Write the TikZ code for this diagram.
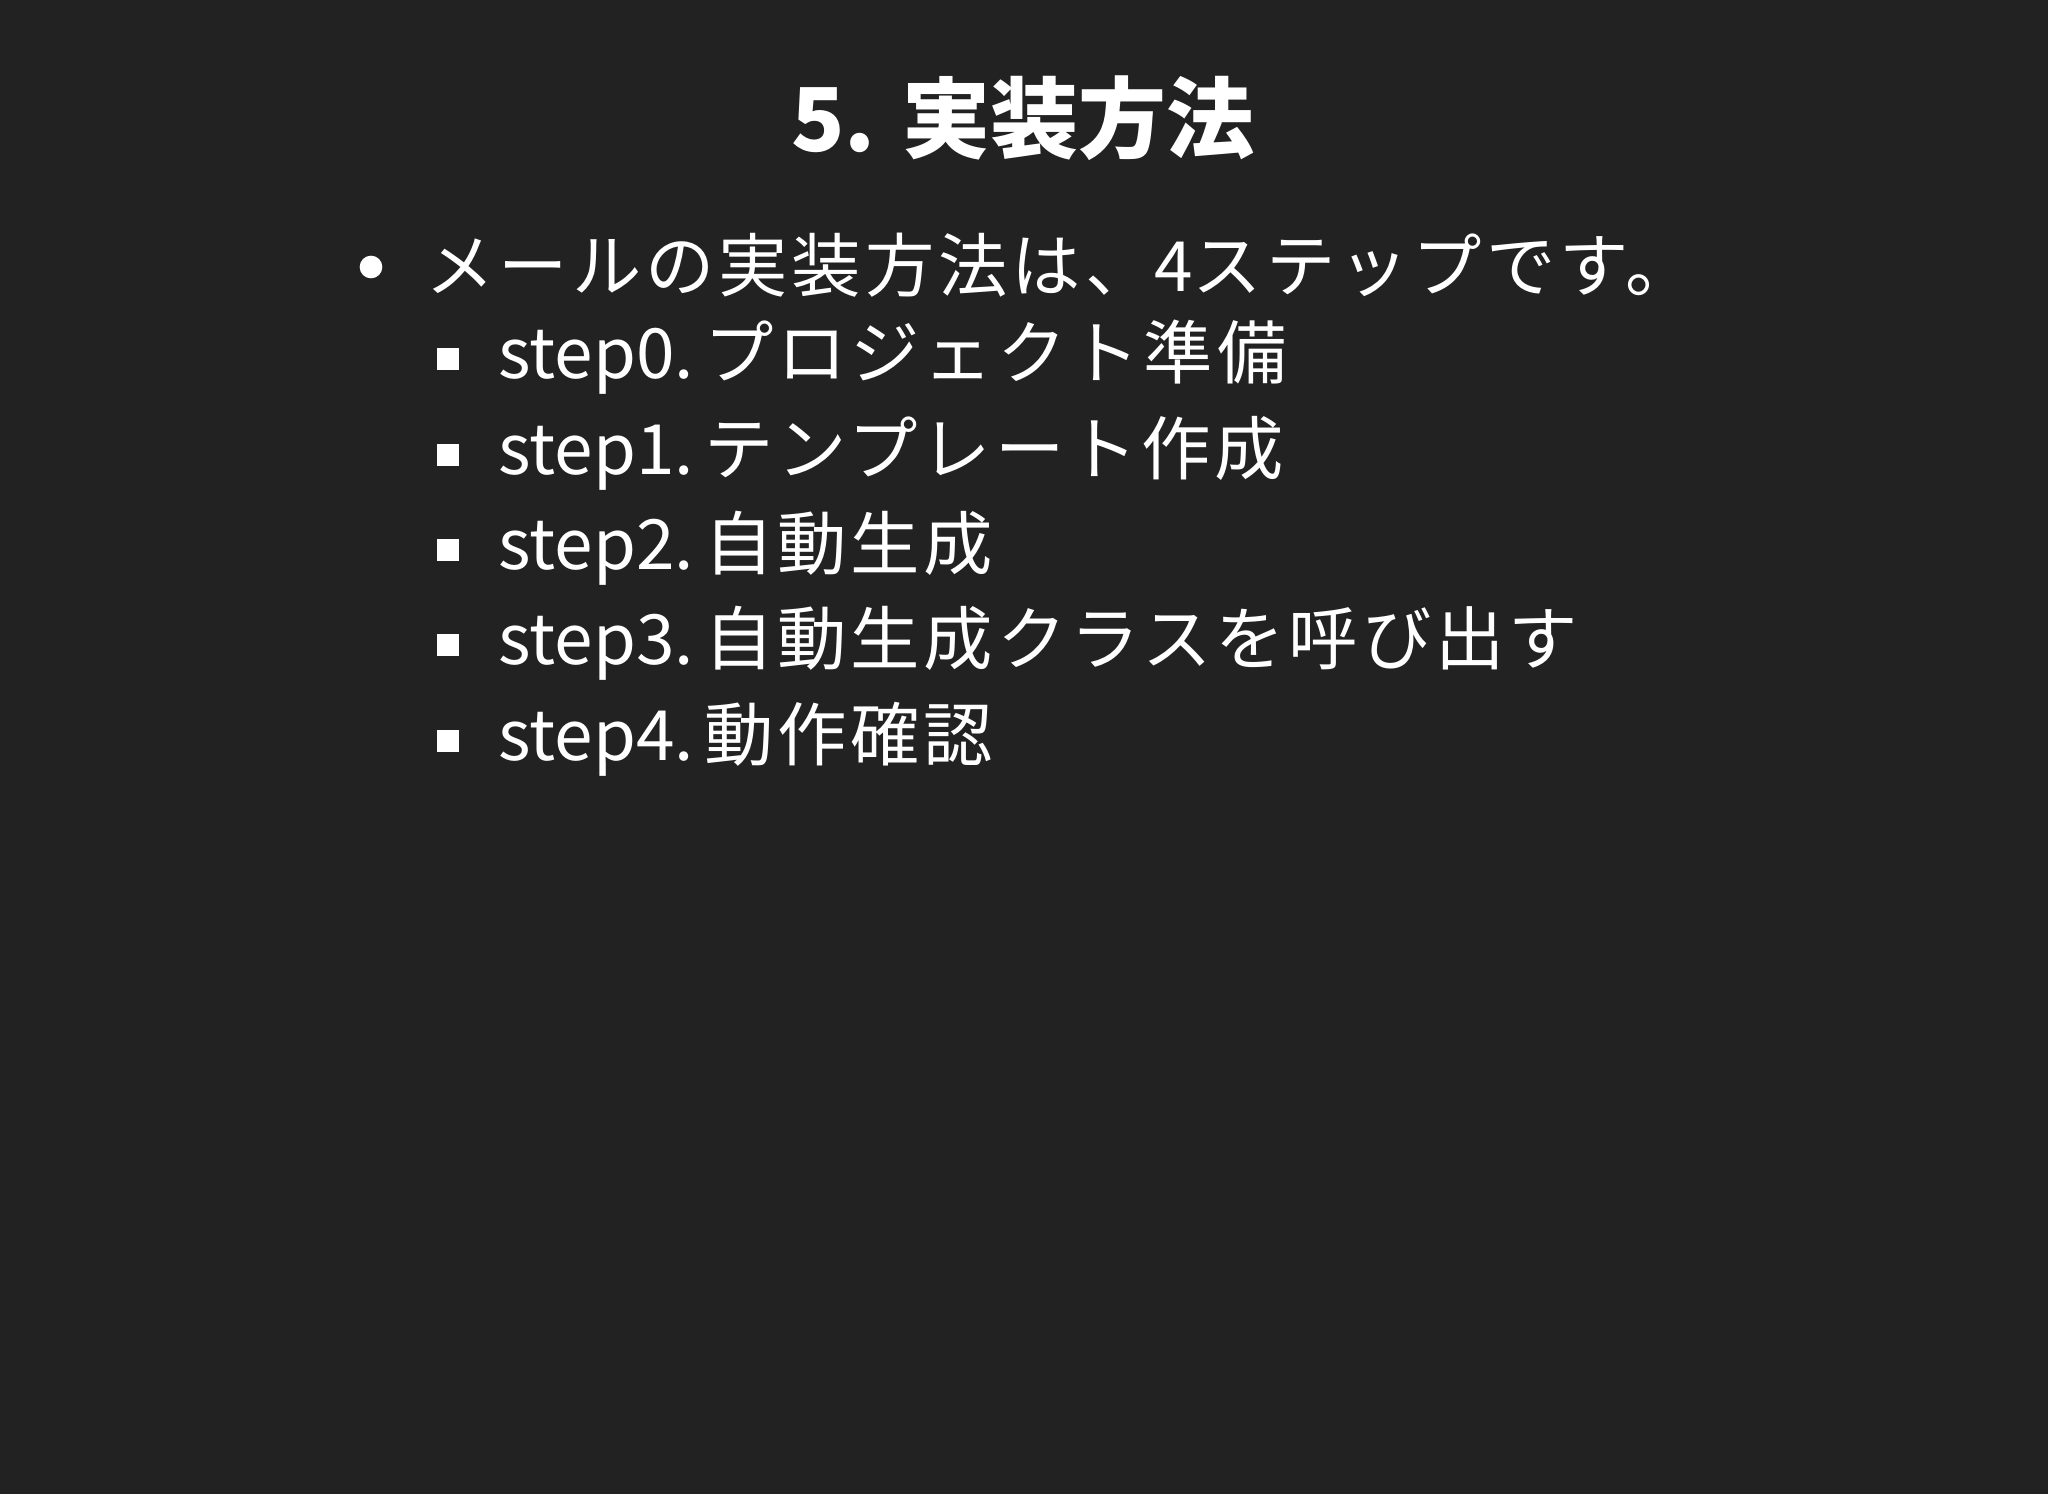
\documentclass[tikz,border=0pt]{standalone}
\usepackage{fontspec}
\setmainfont{Noto Sans CJK JP}
\newfontfamily\cjkw[LetterSpace=5.7]{Noto Sans CJK JP}
\begin{document}
\begin{tikzpicture}[x=0.375pt,y=-0.375pt,
  txt/.style={text=white,anchor=west,inner sep=0pt,font=\fontsize{26pt}{30pt}\selectfont},
  sq/.style={fill=white,minimum size=8.5pt,inner sep=0pt}]
\fill[fill={rgb,255:red,34;green,34;blue,34}] (0,0) rectangle (2048,1494);
\useasboundingbox (0,0) rectangle (2048,1494);
\node[text=white,font=\fontsize{33pt}{38pt}\selectfont\bfseries,inner sep=0pt] (title) at (1023,118) {5. 実装方法};
\node[circle,fill=white,minimum size=8.5pt,inner sep=0pt] (b0) at (371,267) {};
\node[txt] (t0) at (425,265) {{\cjkw メールの実装方法は、}4{\cjkw ステップです。}};
\foreach \y/\a/\t [count=\i] in {359/step0./プロジェクト準備, 455/step1./テンプレート作成, 550/step2./自動生成, 645/step3./自動生成クラスを呼び出す, 741/step4./動作確認}{
  \node[sq] (s\i) at (448,\y) {};
  \node[txt] (u\i) at (498,\y-2) {\a\hspace{0.15em}{\cjkw\t}};
}
\end{tikzpicture}
\end{document}
